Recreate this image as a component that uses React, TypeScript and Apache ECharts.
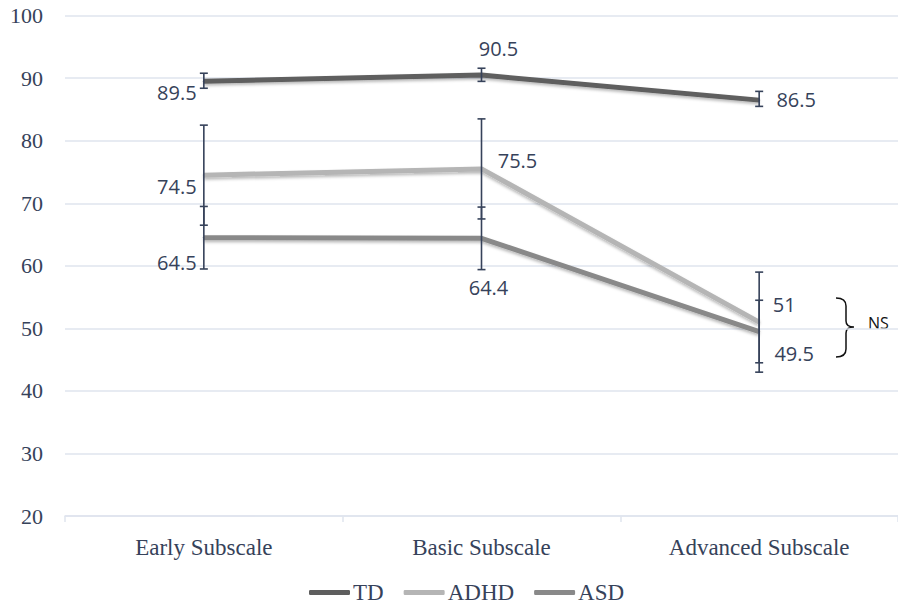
import React, { useEffect, useRef } from "react";
import * as echarts from "echarts";

const categories = ["Early Subscale", "Basic Subscale", "Advanced Subscale"];
const tdValues = [89.5, 90.5, 86.5];
const adhdValues = [74.5, 75.5, 51];
const asdValues = [64.5, 64.4, 49.5];
const tdLow = [88.4, 89.5, 85.5];
const tdHigh = [90.8, 91.6, 87.9];
const adhdLow = [66.5, 67.5, 43];
const adhdHigh = [82.5, 83.5, 59];
const asdLow = [59.5, 59.4, 44.5];
const asdHigh = [69.5, 69.4, 54.5];
const yTicks = [20, 30, 40, 50, 60, 70, 80, 90, 100];

// label offsets (presentation only)
const tdOffsets = [[-27, 11], [17, -27], [37, -1]];
const adhdOffsets = [[-27, 11], [36, -8], [25, -18]];
const asdOffsets = [[-27, 25], [7, 49], [35, 22]];

const NAVY = "#36425a";
const LABEL_FONT = "Open Sans";
const SERIF = "serif";

echarts.graphic.registerShape(
  "brace",
  echarts.graphic.extendPath(
    "M0,0 C6,0 10,2 10,8 L10,23 C10,27 12,29 18,29 C12,29 10,31 10,35 L10,51 C10,57 6,59 0,59",
    {}
  )
);

function lineSeries(name: string, values: number[], color: string, offsets: number[][], z: number) {
  return {
    name,
    type: "line",
    z,
    data: values.map((v, i) => ({
      value: v,
      label: { offset: offsets[i] },
    })),
    symbol: "circle",
    symbolSize: 2,
    showSymbol: true,
    itemStyle: { color },
    lineStyle: {
      color,
      width: 5,
      shadowColor: "rgba(0,0,0,0.28)",
      shadowBlur: 3,
      shadowOffsetY: 2,
    },
    label: {
      show: true,
      position: "inside",
      align: "center",
      verticalAlign: "middle",
      color: NAVY,
      fontFamily: LABEL_FONT,
      fontSize: 20,
      formatter: (p: any) => String(p.value),
    },
    emphasis: { disabled: true },
  };
}

function errorSeries(low: number[], high: number[]) {
  return {
    type: "custom",
    z: 10,
    silent: true,
    data: low.map((l, i) => [i, l, high[i]]),
    renderItem: (params: any, api: any) => {
      const x = api.value(0);
      const lo = api.coord([x, api.value(1)]);
      const hi = api.coord([x, api.value(2)]);
      const w = 4;
      const style = { stroke: NAVY, lineWidth: 1.6 };
      return {
        type: "group",
        children: [
          { type: "line", shape: { x1: lo[0], y1: lo[1], x2: hi[0], y2: hi[1] }, style },
          { type: "line", shape: { x1: lo[0] - w, y1: lo[1], x2: lo[0] + w, y2: lo[1] }, style },
          { type: "line", shape: { x1: hi[0] - w, y1: hi[1], x2: hi[0] + w, y2: hi[1] }, style },
        ],
      };
    },
  };
}

export default function App() {
  const ref = useRef<HTMLDivElement>(null);
  useEffect(() => {
    if (!ref.current) return;
    const chart = echarts.init(ref.current, undefined, { renderer: "svg" });
    chart.setOption({
      animation: false,
      backgroundColor: "#ffffff",
      textStyle: { fontFamily: SERIF },
      grid: { left: 65, top: 15.7, width: 840, height: 500.3, containLabel: false },
      legend: {
        bottom: 0,
        left: 304,
        itemWidth: 41,
        itemHeight: 5,
        itemGap: 20,
        icon: "roundRect",
        textStyle: { fontFamily: SERIF, fontSize: 23, color: NAVY, padding: [0, 0, 0, -2] },
        data: ["TD", "ADHD", "ASD"],
      },
      xAxis: {
        type: "category",
        data: categories,
        boundaryGap: true,
        axisLine: { show: true, lineStyle: { color: "#dfe4ee", width: 1.5 } },
        axisTick: { show: true, length: 6, lineStyle: { color: "#dfe4ee", width: 1.5 } },
        axisLabel: { fontFamily: SERIF, fontSize: 23, color: NAVY, margin: 20 },
      },
      yAxis: {
        type: "value",
        min: yTicks[0],
        max: yTicks[yTicks.length - 1],
        interval: 10,
        axisLine: { show: false },
        axisTick: { show: false },
        splitLine: { lineStyle: { color: "#dfe4ee", width: 1.5 } },
        axisLabel: { fontFamily: SERIF, fontSize: 22, color: NAVY, margin: 22 },
      },
      series: [
        lineSeries("ASD", asdValues, "#898989", asdOffsets, 3),
        lineSeries("ADHD", adhdValues, "#b5b5b5", adhdOffsets, 4),
        lineSeries("TD", tdValues, "#5e5e5e", tdOffsets, 5),
        errorSeries(tdLow, tdHigh),
        errorSeries(adhdLow, adhdHigh),
        errorSeries(asdLow, asdHigh),
      ],
      graphic: [
        {
          type: "brace",
          x: 836,
          y: 298,
          style: { fill: "none", stroke: "#111111", lineWidth: 1.5 },
        },
        {
          type: "text",
          x: 868,
          y: 323,
          style: {
            text: "NS",
            fill: "#111111",
            fontFamily: "Open Sans",
            fontSize: 16,
            verticalAlign: "middle",
          },
        },
      ],
    });
    return () => chart.dispose();
  }, []);
  return (
    <div
      ref={ref}
      style={{ position: "absolute", left: 0, top: 0, width: 898, height: 609 }}
    />
  );
}
